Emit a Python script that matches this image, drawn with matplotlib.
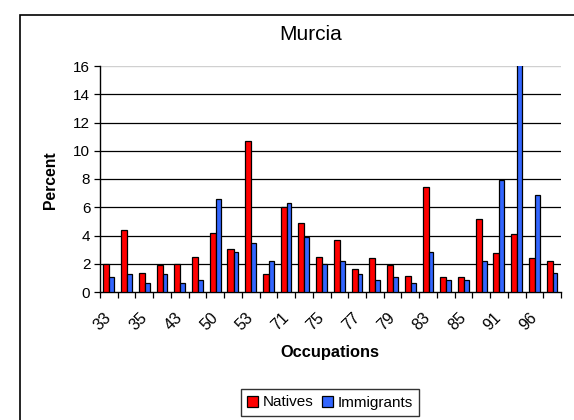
import matplotlib
matplotlib.use("Agg")
import matplotlib.pyplot as plt
from matplotlib.patches import Rectangle, Patch
from matplotlib.transforms import ScaledTranslation
import numpy as np

plt.rcParams['font.family'] = ['Liberation Sans', 'DejaVu Sans']

# occupation codes (only every other one is labelled on the axis)
labels = ["33", "", "35", "", "43", "", "50", "", "53", "", "71", "", "75", "",
          "77", "", "79", "", "83", "", "85", "", "91", "", "96", ""]
natives = [2.0, 4.4, 1.37, 1.9, 2.0, 2.5, 4.2, 3.05, 10.7, 1.25, 6.0, 4.85, 2.5,
           3.7, 1.6, 2.43, 1.9, 1.15, 7.43, 1.05, 1.05, 5.15, 2.75, 4.12, 2.43, 2.2]
immigrants = [1.05, 1.25, 0.63, 1.25, 0.62, 0.85, 6.55, 2.85, 3.5, 2.2, 6.3, 3.9,
              2.0, 2.2, 1.25, 0.85, 1.05, 0.63, 2.85, 0.85, 0.85, 2.2, 7.95, 17.0,
              6.85, 1.35]

red = "#FF0000"
blue = "#3366FF"

fig = plt.figure(figsize=(5.74, 4.2), dpi=100)
W, H = 574, 420
ax = fig.add_axes([100 / W, 1 - 292 / H, 461 / W, 226 / H])

x = np.arange(len(natives))
ax.bar(x + 0.19, natives, width=0.34, align="edge", color=red,
       edgecolor="black", linewidth=0.9, zorder=3)
ax.bar(x + 0.53, immigrants, width=0.27, align="edge", color=blue,
       edgecolor="black", linewidth=0.9, zorder=3)

ax.set_xlim(0, len(natives))
ax.set_ylim(0, 16)
ax.set_yticks(range(0, 17, 2))
for yv in range(2, 15, 2):
    ax.axhline(yv, color="black", linewidth=0.9, zorder=1)
ax.axhline(16, color="#D0D0D0", linewidth=1, zorder=1)

ax.set_xticks(x + 0.5)
ax.set_xticklabels(labels, rotation=45, ha="right", va="center",
                   rotation_mode="anchor", fontsize=11.5)
shift = ScaledTranslation(-0.11, 0, fig.dpi_scale_trans)
for lab in ax.get_xticklabels():
    lab.set_transform(lab.get_transform() + shift)
ax.set_xticks(np.arange(len(natives) + 1), minor=True)
ax.tick_params(axis="x", which="major", length=0, pad=17)
ax.tick_params(axis="x", which="minor", length=4, width=0.9, direction="out")
ax.tick_params(axis="y", length=4, width=0.9, labelsize=11, pad=3)

for s in ["top", "right"]:
    ax.spines[s].set_visible(False)
ax.spines["left"].set_linewidth(1)
ax.spines["bottom"].set_linewidth(1)

fig.text(50 / W, 1 - 180 / H, "Percent", fontsize=11.3, fontweight="bold",
         rotation=90, ha="center", va="center")
fig.text(330 / W, 1 - 352 / H, "Occupations", fontsize=11.8, fontweight="bold",
         ha="center", va="center")
fig.text(310.5 / W, 1 - 34 / H, "Murcia", fontsize=15, ha="center", va="center")

handles = [Patch(facecolor=red, edgecolor="black", linewidth=0.9, label="Natives"),
           Patch(facecolor=blue, edgecolor="black", linewidth=0.9, label="Immigrants")]
fig.legend(handles=handles, loc="center", bbox_to_anchor=(330 / W, 1 - 402.5 / H),
           ncol=2, frameon=True, fancybox=False, edgecolor="black", fontsize=11,
           handlelength=0.7, handleheight=0.7, handletextpad=0.3,
           columnspacing=0.6, borderpad=0.4)

# chart area border (runs off the right and bottom of the image)
fig.add_artist(Rectangle((20 / W, -0.1), 1.2, 1.1 - 15 / H, transform=fig.transFigure,
                         fill=False, edgecolor="black", linewidth=1.2))

fig.savefig("out.png", dpi=100)
